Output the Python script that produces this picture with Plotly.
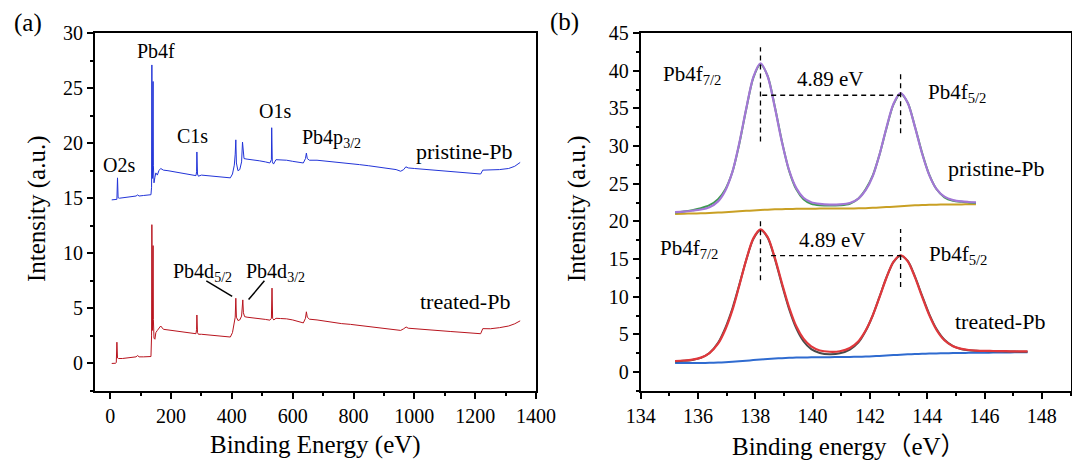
import plotly.graph_objects as go

FONT = "Liberation Serif"
CJK_FONT = "Liberation Serif, Noto Sans CJK SC"

# ---------------- (a) survey spectra ----------------
survey_e_pristine = [5, 20, 22, 24, 26, 30, 45, 60, 75, 85, 90, 95, 110, 125, 134, 136, 137, 138, 139,
                     141, 142, 144, 147, 150, 155, 160, 166, 175, 190, 210, 230, 250, 270, 282, 284,
                     285, 287, 290, 300, 320, 340, 360, 380, 395, 402, 408, 411, 413, 415, 420, 426,
                     432, 435, 437, 440, 450, 470, 490, 510, 525, 530, 531, 533, 537, 545, 560, 580,
                     600, 620, 635, 642, 645, 648, 655, 680, 700, 730, 760, 790, 820, 850, 880, 910,
                     940, 955, 965, 972, 980, 1000, 1040, 1080, 1120, 1160, 1190, 1210, 1218, 1225,
                     1250, 1280, 1310, 1330, 1348]
survey_i_pristine = [14.85, 14.87, 14.9, 16.85, 15.05, 15.0, 15.05, 15.1, 15.12, 15.2, 15.3, 15.2, 15.25,
                     15.3, 15.32, 16.0, 27.1, 18.5, 16.8, 25.6, 18.0, 16.4, 16.9, 17.3, 17.1, 17.5, 17.7,
                     17.55, 17.5, 17.4, 17.35, 17.25, 17.15, 17.05, 17.4, 19.2, 17.2, 17.0, 17.1, 17.05,
                     16.95, 16.9, 16.85, 16.85, 17.2, 18.0, 19.0, 20.3, 18.2, 17.5, 17.6, 18.3, 20.1,
                     19.0, 18.6, 18.55, 18.5, 18.4, 18.3, 18.2, 18.5, 21.4, 18.3, 18.1, 18.5, 18.5,
                     18.45, 18.35, 18.25, 18.2, 18.6, 19.1, 18.6, 18.45, 18.45, 18.4, 18.3, 18.2, 18.15,
                     18.05, 17.95, 17.85, 17.75, 17.6, 17.45, 17.6, 17.85, 17.75, 17.7, 17.6, 17.5,
                     17.45, 17.35, 17.25, 17.2, 17.2, 17.55, 17.55, 17.6, 17.7, 17.9, 18.25]

survey_e_treated = [5, 18, 20, 22, 24, 27, 40, 55, 70, 85, 90, 95, 110, 125, 134, 136, 137, 138, 139,
                    141, 142, 144, 147, 150, 155, 160, 166, 175, 190, 210, 230, 250, 270, 282, 284,
                    285, 287, 290, 300, 320, 340, 360, 380, 395, 402, 408, 411, 413, 415, 420, 426,
                    432, 436, 438, 442, 450, 470, 490, 510, 525, 530, 532, 534, 538, 545, 560, 580,
                    600, 620, 635, 642, 645, 648, 655, 680, 700, 730, 760, 790, 820, 850, 880, 910,
                    940, 955, 965, 973, 980, 1000, 1040, 1080, 1120, 1160, 1190, 1210, 1218, 1225,
                    1250, 1280, 1310, 1330, 1348]
survey_i_treated = [0.0, 0.02, 0.1, 1.93, 0.5, 0.45, 0.45, 0.5, 0.52, 0.6, 0.72, 0.6, 0.6, 0.62, 0.63,
                    2.5, 12.6, 7.4, 3.0, 10.7, 4.0, 2.3, 2.2, 2.8, 3.0, 3.2, 3.4, 3.1, 3.05, 2.95, 2.9,
                    2.8, 2.75, 2.7, 3.1, 4.4, 2.8, 2.65, 2.65, 2.6, 2.55, 2.5, 2.45, 2.4, 2.8, 3.6,
                    4.2, 5.92, 4.2, 3.9, 3.95, 4.3, 5.77, 4.6, 4.25, 4.2, 4.15, 4.05, 4.0, 3.93, 4.1,
                    6.84, 4.1, 3.95, 4.1, 4.08, 4.05, 3.95, 3.8, 3.68, 4.1, 4.69, 4.2, 4.02, 3.95,
                    3.85, 3.75, 3.62, 3.55, 3.45, 3.38, 3.3, 3.2, 3.08, 3.0, 3.15, 3.31, 3.2, 3.15,
                    3.05, 2.95, 2.9, 2.82, 2.75, 2.7, 2.7, 3.16, 3.15, 3.25, 3.4, 3.6, 3.87]

# ---------------- (b) Pb 4f high-resolution spectra ----------------
hr_e_pristine = [135.2, 135.5, 135.8, 136.1, 136.4, 136.7, 136.95, 137.2, 137.43, 137.68, 137.93,
                 138.18, 138.43, 138.68, 138.93, 139.18, 139.43, 139.68, 139.95, 140.25, 140.6,
                 140.95, 141.3, 141.6, 141.85, 142.1, 142.33, 142.57, 142.82, 143.07, 143.32,
                 143.57, 143.82, 144.07, 144.32, 144.6, 144.9, 145.2, 145.45, 145.7]
hr_raw_pristine = [21.20, 21.32, 21.50, 21.75, 22.15, 22.95, 24.25, 26.55, 30.10, 34.85, 39.05,
                   40.85, 39.30, 35.25, 30.60, 26.70, 24.25, 22.95, 22.35, 22.15, 22.10, 22.15,
                   22.35, 23.05, 24.25, 26.10, 28.80, 32.25, 35.50, 36.95, 35.75, 32.60, 29.10,
                   26.20, 24.30, 23.20, 22.75, 22.60, 22.52, 22.45]
hr_fit_pristine = [21.24, 21.30, 21.42, 21.58, 21.89, 22.66, 24.08, 26.58, 30.21, 34.92, 39.16,
                   40.98, 39.26, 35.14, 30.52, 26.79, 24.42, 23.14, 22.55, 22.33, 22.24, 22.27,
                   22.45, 23.03, 24.14, 26.02, 28.81, 32.34, 35.59, 37.01, 35.71, 32.55, 29.01,
                   26.15, 24.32, 23.28, 22.83, 22.65, 22.58, 22.53]
hr_bg_pristine = [21.00, 21.02, 21.05, 21.08, 21.12, 21.17, 21.22, 21.28, 21.34, 21.40, 21.46,
                  21.51, 21.56, 21.60, 21.63, 21.65, 21.67, 21.68, 21.69, 21.70, 21.70, 21.71,
                  21.72, 21.74, 21.76, 21.80, 21.85, 21.90, 21.96, 22.02, 22.08, 22.13, 22.17,
                  22.20, 22.22, 22.24, 22.25, 22.26, 22.27, 22.28]

hr_e_treated = hr_e_pristine + [146.0, 146.3, 146.6, 146.9, 147.2, 147.5]
hr_raw_treated = [1.42, 1.50, 1.62, 1.90, 2.55, 3.90, 5.85, 8.45, 11.45, 14.85, 17.65, 18.85,
                  17.85, 15.05, 11.60, 8.35, 5.80, 4.10, 3.05, 2.55, 2.38, 2.50, 3.00, 3.95, 5.45,
                  7.55, 9.95, 12.50, 14.60, 15.45, 14.75, 12.70, 10.15, 7.70, 5.75, 4.30, 3.45,
                  3.05, 2.90, 2.84, 2.80, 2.78, 2.76, 2.74, 2.72, 2.71]
hr_fit_treated = [1.48, 1.55, 1.67, 1.93, 2.54, 3.77, 5.62, 8.22, 11.33, 14.87, 17.75, 18.95,
                  17.93, 15.20, 11.80, 8.61, 6.08, 4.44, 3.41, 2.88, 2.71, 2.78, 3.21, 4.11, 5.52,
                  7.54, 9.89, 12.46, 14.63, 15.51, 14.71, 12.61, 10.01, 7.56, 5.63, 4.23, 3.44,
                  3.08, 2.94, 2.87, 2.82, 2.81, 2.79, 2.77, 2.76, 2.76]
hr_bg_treated = [1.20, 1.20, 1.21, 1.22, 1.24, 1.27, 1.31, 1.37, 1.44, 1.52, 1.60, 1.68, 1.75,
                 1.81, 1.86, 1.90, 1.93, 1.95, 1.97, 1.98, 1.99, 2.00, 2.02, 2.04, 2.07, 2.11,
                 2.16, 2.21, 2.26, 2.31, 2.36, 2.40, 2.44, 2.47, 2.49, 2.51, 2.53, 2.55, 2.56,
                 2.57, 2.58, 2.60, 2.61, 2.62, 2.63, 2.64]

# peak positions (eV) and the intensities the dashed guides refer to
pb4f72_pos, pb4f52_pos = 138.18, 143.07
pristine_guides = {"v1": (30.6, 43.1), "v2": (31.7, 40.0), "h": (36.74, 138.24)}
treated_guides = {"v1": (12.2, 20.1), "v2": (11.3, 19.0), "h": (15.45, 138.55)}

fig = go.Figure()

# survey curves
fig.add_trace(go.Scatter(x=survey_e_pristine, y=survey_i_pristine, mode="lines",
                         line=dict(color="#2234d8", width=1), xaxis="x", yaxis="y"))
fig.add_trace(go.Scatter(x=survey_e_treated, y=survey_i_treated, mode="lines",
                         line=dict(color="#b8141e", width=1), xaxis="x", yaxis="y"))

# high-resolution curves: background, measured data, envelope
spline = dict(shape="spline", smoothing=0.8)
fig.add_trace(go.Scatter(x=hr_e_pristine, y=hr_bg_pristine, mode="lines",
                         line=dict(color="#c9a024", width=2, **spline), xaxis="x2", yaxis="y2"))
fig.add_trace(go.Scatter(x=hr_e_pristine, y=hr_raw_pristine, mode="lines",
                         line=dict(color="#3f9a52", width=2, **spline), xaxis="x2", yaxis="y2"))
fig.add_trace(go.Scatter(x=hr_e_pristine, y=hr_fit_pristine, mode="lines",
                         line=dict(color="#a377d6", width=2.2, **spline), xaxis="x2", yaxis="y2"))
fig.add_trace(go.Scatter(x=hr_e_treated, y=hr_bg_treated, mode="lines",
                         line=dict(color="#2f6bd0", width=2, **spline), xaxis="x2", yaxis="y2"))
fig.add_trace(go.Scatter(x=hr_e_treated, y=hr_raw_treated, mode="lines",
                         line=dict(color="#4a4a4a", width=2, **spline), xaxis="x2", yaxis="y2"))
fig.add_trace(go.Scatter(x=hr_e_treated, y=hr_fit_treated, mode="lines",
                         line=dict(color="#e0383c", width=2.2, **spline), xaxis="x2", yaxis="y2"))

# dashed guides marking the spin-orbit splitting
shapes = []
dash = dict(color="black", width=1.3, dash="5px,4px")
for g in (pristine_guides, treated_guides):
    shapes.append(dict(type="line", xref="x2", yref="y2", x0=pb4f72_pos, x1=pb4f72_pos,
                       y0=g["v1"][0], y1=g["v1"][1], line=dash))
    shapes.append(dict(type="line", xref="x2", yref="y2", x0=pb4f52_pos, x1=pb4f52_pos,
                       y0=g["v2"][0], y1=g["v2"][1], line=dash))
    shapes.append(dict(type="line", xref="x2", yref="y2", x0=g["h"][1], x1=pb4f52_pos,
                       y0=g["h"][0], y1=g["h"][0], line=dash))

# leader lines for the Pb4d labels
shapes.append(dict(type="line", xref="x", yref="y", x0=316, y0=7.5, x1=401, y1=6.1,
                   line=dict(color="black", width=1.5)))
shapes.append(dict(type="line", xref="x", yref="y", x0=507, y0=7.5, x1=455, y1=5.8,
                   line=dict(color="black", width=1.5)))


def label(text, x, y, xref, yref, size=20, family=FONT, angle=0):
    return dict(text=text, x=x, y=y, xref=xref, yref=yref, showarrow=False, textangle=angle,
                xanchor="center", yanchor="middle",
                font=dict(family=family, size=size, color="black"))


annotations = [
    label("Pb4f", 149, 28.4, "x", "y"),
    label("O2s", 28, 18.0, "x", "y"),
    label("C1s", 271, 20.65, "x", "y"),
    label("O1s", 541, 22.96, "x", "y"),
    label("Pb4p<sub>3/2</sub>", 728, 20.4, "x", "y"),
    label("pristine-Pb", 1165, 19.26, "x", "y", 22),
    label("treated-Pb", 1167, 5.6, "x", "y", 22),
    label("Pb4d<sub>5/2</sub>", 305, 8.3, "x", "y"),
    label("Pb4d<sub>3/2</sub>", 542, 8.3, "x", "y"),
    label("Pb4f<sub>7/2</sub>", 135.78, 39.4, "x2", "y2", 21),
    label("4.89 eV", 140.63, 38.9, "x2", "y2", 21),
    label("Pb4f<sub>5/2</sub>", 145.03, 37.1, "x2", "y2", 21),
    label("pristine-Pb", 146.4, 27.05, "x2", "y2", 22),
    label("Pb4f<sub>7/2</sub>", 135.68, 16.3, "x2", "y2", 21),
    label("4.89 eV", 140.69, 17.56, "x2", "y2", 21),
    label("Pb4f<sub>5/2</sub>", 145.06, 15.6, "x2", "y2", 21),
    label("treated-Pb", 146.54, 6.67, "x2", "y2", 22),
    # panel tags and axis titles
    label("(a)", 27.5 / 1072, 1 - 23 / 463, "paper", "paper", 25),
    label("(b)", 564 / 1072, 1 - 22 / 463, "paper", "paper", 25),
    label("Binding Energy (eV)", 315 / 1072, 1 - 445 / 463, "paper", "paper", 25),
    label("Binding energy（eV）", 849 / 1072, 1 - 446 / 463, "paper", "paper", 25, CJK_FONT),
    label("Intensity (a.u.)", 37 / 1072, 1 - 209 / 463, "paper", "paper", 25, FONT, -90),
    label("Intensity (a.u.)", 577 / 1072, 1 - 209 / 463, "paper", "paper", 25, FONT, -90),
]


def axis(domain, rng, dtick, minor_dtick, anchor):
    return dict(domain=domain, range=rng, dtick=dtick, tick0=0, anchor=anchor, automargin=False,
                showline=True, linecolor="black", linewidth=2, mirror=True,
                ticks="outside", ticklen=6, tickwidth=2, tickcolor="black",
                minor=dict(dtick=minor_dtick, ticks="outside", ticklen=3, tickwidth=1.5,
                           tickcolor="black", showgrid=False),
                showgrid=False, zeroline=False,
                tickfont=dict(family=FONT, size=20, color="black"))


ydom = [1 - 391 / 463, 1 - 33 / 463]
fig.update_layout(
    template="none",
    width=1072, height=463,
    margin=dict(l=0, r=0, t=0, b=0),
    paper_bgcolor="white", plot_bgcolor="white",
    showlegend=False,
    font=dict(family=FONT, color="black"),
    xaxis=axis([95 / 1072, 536 / 1072], [-50, 1400], 200, 100, "y"),
    yaxis=axis(ydom, [-2.5, 30], 5, 2.5, "x"),
    xaxis2=axis([640.7 / 1072, 1070.5 / 1072], [134, 149], 2, 1, "y2"),
    yaxis2=axis(ydom, [-2.5, 45], 5, 2.5, "x2"),
    shapes=shapes,
    annotations=annotations,
)

fig.write_html("out.html")
